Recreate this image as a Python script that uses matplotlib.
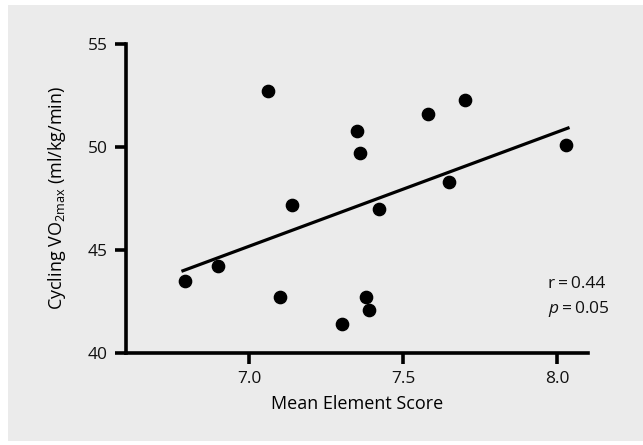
import numpy as np
import matplotlib
matplotlib.use("Agg")
import matplotlib.pyplot as plt
from matplotlib.patches import Rectangle

# values
score = [6.79, 6.90, 7.06, 7.10, 7.14, 7.30, 7.35, 7.36, 7.38, 7.39, 7.42, 7.58, 7.65, 7.70, 8.03]
vo2 = [43.5, 44.2, 52.7, 42.7, 47.2, 41.4, 50.8, 49.7, 42.7, 42.1, 47.0, 51.6, 48.3, 52.3, 50.1]
x_ticks = [7.0, 7.5, 8.0]
y_ticks = [40, 45, 50, 55]
r_text = "r\u2009=\u20090.44"
p_text = "= 0.05"

plt.rcParams['font.family'] = ['Open Sans', 'DejaVu Sans']
plt.rcParams['font.weight'] = 'medium'
plt.rcParams['mathtext.fontset'] = 'custom'
plt.rcParams['mathtext.rm'] = 'Open Sans:medium'
plt.rcParams['mathtext.it'] = 'Open Sans:italic:medium'
plt.rcParams['text.color'] = '#111111'

fig = plt.figure(figsize=(6.43, 4.45), dpi=100, facecolor='white')
bg = '#ebebeb'
fig.patches.append(Rectangle((8 / 643, 4 / 445), 1, 1 - 9 / 445, transform=fig.transFigure,
                             facecolor=bg, edgecolor='none', zorder=-10))

ax = fig.add_axes([126 / 643, 1 - 353 / 445, (588 - 126) / 643, (353 - 44) / 445])
ax.set_facecolor('none')

ax.scatter(score, vo2, s=78, color='black', zorder=3, clip_on=False)

# least squares line over the data range
k, b = np.polyfit(score, vo2, 1)
xs = np.array([min(score) - 0.01, max(score) + 0.01])
ax.plot(xs, k * xs + b, color='black', lw=2.3, solid_capstyle='butt')

ax.set_xlim(6.6, 8.1)
ax.set_ylim(40, 55)
ax.set_xticks(x_ticks)
ax.set_xticklabels([f"{t:.1f}" for t in x_ticks])
ax.set_yticks(y_ticks)

for s in ['top', 'right']:
    ax.spines[s].set_visible(False)
for s in ['left', 'bottom']:
    ax.spines[s].set_linewidth(2.6)
ax.tick_params(width=2.6, length=8, labelsize=12.5, pad=5, labelcolor='#111111')

ax.set_xlabel("Mean Element Score", fontsize=13, labelpad=6)
ax.set_ylabel("Cycling VO$_{\\mathrm{2max}}$ (ml/kg/min)", fontsize=13, labelpad=14)

ax.text(548 / 643, 1 - 284 / 445, r_text, transform=fig.transFigure, fontsize=12.5,
        va='center', ha='left')
ax.text(548 / 643, 1 - 309 / 445, "$p$\u2009" + p_text.replace(" ", "\u2009"),
        transform=fig.transFigure, fontsize=12.5, va='center', ha='left')

fig.savefig("out.png", dpi=100, facecolor='white')
